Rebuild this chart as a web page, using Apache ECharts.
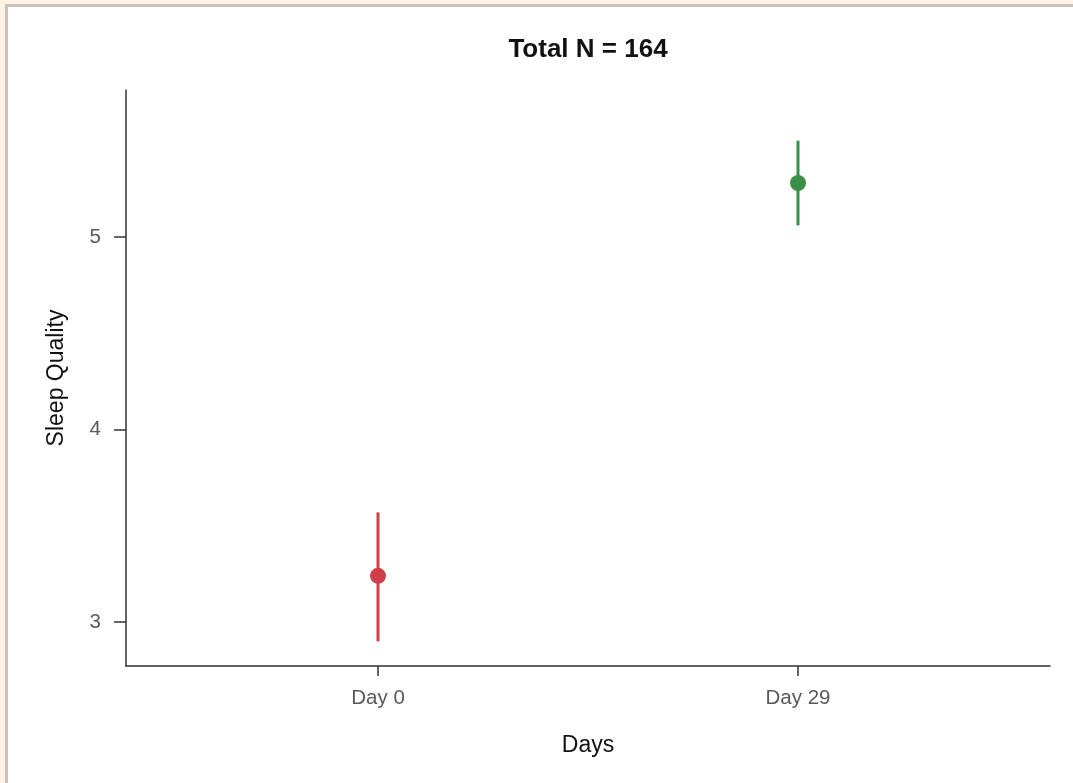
<!DOCTYPE html>
<html>
<head>
<meta charset="utf-8">
<script src="https://cdn.jsdelivr.net/npm/echarts@6/dist/echarts.min.js"></script>
<style>
  html, body { margin: 0; padding: 0; background: #fdf2e3; }
  #frame {
    position: absolute; left: 5px; top: 4px; width: 1068px; height: 779px;
    border-left: 3px solid #cbc3bb; border-top: 3px solid #cbc3bb;
    background: #ffffff;
  }
  #chart { width: 1065px; height: 776px; }
</style>
</head>
<body>
<div id="frame"><div id="chart"></div></div>
<script>
// Mean sleep quality with error bars per time point
const categories = ['Day 0', 'Day 29'];
const means = [3.24, 5.28];
const lowers = [2.90, 5.06];
const uppers = [3.57, 5.50];
const yTicks = [3, 4, 5];
const colors = ['#d0404a', '#3b8f48'];

const xPos = categories.map((_, i) => i + 1);

const gridLeft = 118, gridRight = 23;
const chartWidth = 1065;

const chart = echarts.init(document.getElementById('chart'), null, { renderer: 'canvas' });

const errorData = categories.map((c, i) => ({
  value: [xPos[i], lowers[i], uppers[i]],
  itemStyle: { color: colors[i] }
}));
const pointData = categories.map((c, i) => ({
  value: [xPos[i], means[i]],
  itemStyle: { color: colors[i], opacity: 1 }
}));

chart.setOption({
  animation: false,
  backgroundColor: '#ffffff',
  textStyle: { fontFamily: 'Liberation Sans, Arial, sans-serif' },
  title: {
    text: 'Total N = 164',
    // centred over the plotting area rather than the whole canvas
    left: gridLeft + (chartWidth - gridLeft - gridRight) / 2 - 5,
    textAlign: 'center',
    top: 25,
    textStyle: { fontSize: 26, fontWeight: 'bold', color: '#111111' }
  },
  grid: { left: gridLeft, right: gridRight, top: 83, bottom: 117 },
  xAxis: {
    type: 'value',
    min: 0.4,
    max: 2.6,
    name: 'Days',
    nameLocation: 'middle',
    nameGap: 68,
    nameTextStyle: { fontSize: 23, color: '#111111' },
    axisLine: { show: true, lineStyle: { color: '#333333', width: 1.5 } },
    axisTick: { show: true, length: 10, lineStyle: { color: '#333333', width: 1.5 }, customValues: xPos },
    axisLabel: {
      customValues: xPos,
      formatter: v => categories[Math.round(v) - 1] || '',
      fontSize: 20.5, color: '#5a5a5a', margin: 22
    },
    splitLine: { show: false }
  },
  yAxis: {
    type: 'value',
    min: 2.772,
    max: 5.763,
    name: 'Sleep Quality',
    nameLocation: 'middle',
    nameGap: 58,
    nameRotate: 90,
    nameTextStyle: { fontSize: 23, color: '#111111' },
    axisLine: { show: true, lineStyle: { color: '#333333', width: 1.5 } },
    axisTick: { show: true, length: 12, lineStyle: { color: '#333333', width: 1.5 }, customValues: yTicks },
    axisLabel: { customValues: yTicks, fontSize: 20.5, color: '#5a5a5a', margin: 25 },
    splitLine: { show: false }
  },
  series: [
    {
      type: 'custom',
      data: errorData,
      renderItem: (params, api) => {
        const lo = api.coord([api.value(0), api.value(1)]);
        const hi = api.coord([api.value(0), api.value(2)]);
        return {
          type: 'line',
          shape: { x1: lo[0], y1: lo[1], x2: hi[0], y2: hi[1] },
          style: { stroke: api.visual('color'), lineWidth: 3 }
        };
      },
      z: 2
    },
    {
      type: 'scatter',
      data: pointData,
      symbol: 'circle',
      symbolSize: 16,
      z: 3
    }
  ]
});
</script>
</body>
</html>
